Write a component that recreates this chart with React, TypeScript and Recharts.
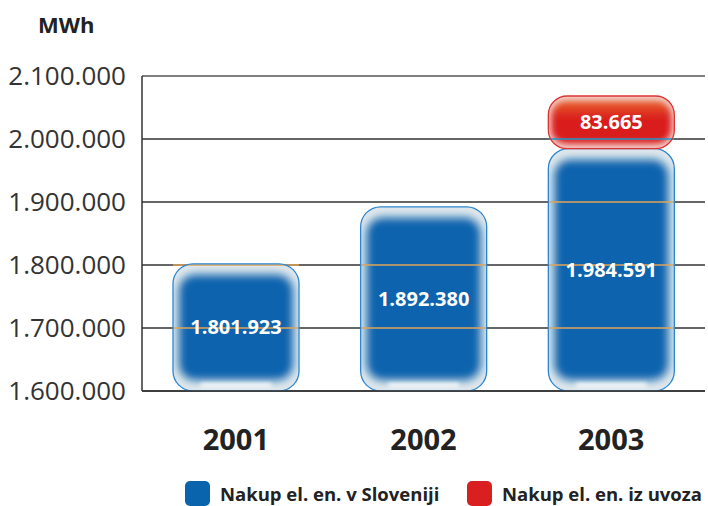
import { BarChart, Bar, XAxis, YAxis, CartesianGrid, ReferenceLine, LabelList } from 'recharts';

// MWh purchased, by year
const years = ['2001', '2002', '2003'];
const domesticMWh = [1801923, 1892380, 1984591];
const importMWh = [0, 0, 83665];
const yTicks = [1600000, 1700000, 1800000, 1900000, 2000000, 2100000];

const Y_MIN = yTicks[0];
const Y_MAX = yTicks[yTicks.length - 1];

const data = years.map((year, i) => ({
  year,
  domestic: domesticMWh[i],
  imported: importMWh[i],
}));

const FONT = '"Open Sans", "DejaVu Sans", sans-serif';

const fmt = (v: number) => String(v).replace(/\B(?=(\d{3})+(?!\d))/g, '.');

interface BarLook {
  id: string;
  main: string;
  top: string;
  back: string;
  edge: string;
  gridColor: string;
  insetX: number;
  insetY: number;
  blur: number;
}

const blueLook: BarLook = {
  id: 'blue',
  main: '#0a64ad',
  top: '#0a64ad',
  back: '#dfe7ec',
  edge: '#2a86d2',
  gridColor: '#e0a458',
  insetX: 6,
  insetY: 11,
  blur: 4.5,
};

const redLook: BarLook = {
  id: 'red',
  main: '#d91f1f',
  top: '#e8602a',
  back: '#f3d2cc',
  edge: '#dc3434',
  gridColor: '#1f96cc',
  insetX: 3,
  insetY: 5,
  blur: 3,
};

// glossy rounded bar; gridlines are redrawn across it in a tinted colour
function makeShape(look: BarLook, range: (p: any) => [number, number]) {
  return (props: any) => {
    const { x, y, width, height, payload, index } = props;
    if (!height || height <= 0) return <g />;
    const [low, high] = range(payload);
    const ppu = height / (high - low);
    const r = Math.min(20, height / 2.8);
    const key = `${look.id}-${index}`;
    const lines = yTicks
      .filter((t) => t > low && t < high)
      .map((t) => y + height - (t - low) * ppu);
    return (
      <g>
        <defs>
          <filter id={`soft-${key}`} x="-30%" y="-30%" width="160%" height="160%">
            <feGaussianBlur stdDeviation={look.blur} />
          </filter>
          <filter id={`glow-${key}`} x="-30%" y="-100%" width="160%" height="300%">
            <feGaussianBlur stdDeviation="2" />
          </filter>
          <linearGradient id={`grad-${key}`} x1="0" y1="0" x2="0" y2="1">
            <stop offset="0%" stopColor={look.top} />
            <stop offset="40%" stopColor={look.main} />
            <stop offset="100%" stopColor={look.main} />
          </linearGradient>
          <clipPath id={`clip-${key}`}>
            <rect x={x} y={y} width={width} height={height} rx={r} ry={r} />
          </clipPath>
        </defs>
        <rect x={x} y={y} width={width} height={height} rx={r} ry={r} fill={look.back} />
        <g clipPath={`url(#clip-${key})`}>
          <rect
            x={x + look.insetX}
            y={y + look.insetY}
            width={width - look.insetX * 2}
            height={height - look.insetY * 2}
            rx={Math.max(r - 4, 2)}
            ry={Math.max(r - 4, 2)}
            fill={`url(#grad-${key})`}
            filter={`url(#soft-${key})`}
          />
          {look.id === 'blue' && (
            <rect
              x={x + width * 0.22}
              y={y + height - 8}
              width={width * 0.56}
              height={4}
              fill="#ffffff"
              opacity={0.9}
              filter={`url(#glow-${key})`}
            />
          )}
        </g>
        {lines.map((ly) => (
          <line key={ly} x1={x} x2={x + width} y1={ly} y2={ly} stroke={look.gridColor} strokeWidth={1.5} />
        ))}
        <rect
          x={x}
          y={y}
          width={width}
          height={height}
          rx={r}
          ry={r}
          fill="none"
          stroke={look.edge}
          strokeWidth={1.3}
        />
      </g>
    );
  };
}

const DomesticShape = makeShape(blueLook, (p) => [Y_MIN, p.domestic]);
const ImportShape = makeShape(redLook, (p) => [p.domestic, p.domestic + p.imported]);

const legendItems = [
  { label: 'Nakup el. en. v Sloveniji', color: '#0a64ad', left: 185 },
  { label: 'Nakup el. en. iz uvoza', color: '#d91f1f', left: 467 },
];

export default function App() {
  return (
    <div style={{ position: 'absolute', left: 0, top: 0, width: 708, height: 506, background: '#fff', fontFamily: FONT }}>
      <div
        style={{
          position: 'absolute',
          left: 38,
          top: 10,
          fontSize: 22,
          fontWeight: 700,
          color: '#222',
          lineHeight: '28px',
        }}
      >
        MWh
      </div>
      <BarChart width={708} height={506} data={data} margin={{ top: 76, right: 3, bottom: 0, left: 0 }}>
        <CartesianGrid vertical={false} stroke="#333" strokeWidth={1.5} />
        <ReferenceLine y={Y_MAX} stroke="#8a8a8a" strokeWidth={1.5} />
        <XAxis
          dataKey="year"
          height={115}
          axisLine={{ stroke: '#333', strokeWidth: 1.5 }}
          tickLine={false}
          tickSize={0}
          tickMargin={38}
          tick={{ fill: '#222', fontSize: 29, fontWeight: 700, fontFamily: FONT }}
        />
        <YAxis
          width={142}
          domain={[Y_MIN, Y_MAX]}
          ticks={yTicks}
          allowDataOverflow
          tickFormatter={fmt}
          axisLine={{ stroke: '#333', strokeWidth: 1.5 }}
          tickLine={false}
          tickSize={0}
          tickMargin={16}
          tick={{ fill: '#333', fontSize: 26, fontFamily: FONT }}
        />
        <Bar dataKey="domestic" stackId="a" barSize={126} shape={DomesticShape} isAnimationActive={false}>
          <LabelList
            dataKey="domestic"
            position="center"
            formatter={(v: any) => fmt(v)}
            style={{ fill: '#fff', fontSize: 20, fontWeight: 700, fontFamily: FONT }}
          />
        </Bar>
        <Bar dataKey="imported" stackId="a" barSize={126} shape={ImportShape} isAnimationActive={false}>
          <LabelList
            dataKey="imported"
            position="center"
            formatter={(v: any) => (v ? fmt(v) : '')}
            style={{ fill: '#fff', fontSize: 20, fontWeight: 700, fontFamily: FONT }}
          />
        </Bar>
      </BarChart>
      {legendItems.map((item) => (
        <div
          key={item.label}
          style={{
            position: 'absolute',
            left: item.left,
            top: 480,
            display: 'flex',
            alignItems: 'center',
            height: 26,
          }}
        >
          <div style={{ width: 25, height: 25, borderRadius: 5, background: item.color, marginRight: 10 }} />
          <span style={{ fontSize: 18.5, fontWeight: 700, color: '#222', whiteSpace: 'nowrap' }}>{item.label}</span>
        </div>
      ))}
    </div>
  );
}
